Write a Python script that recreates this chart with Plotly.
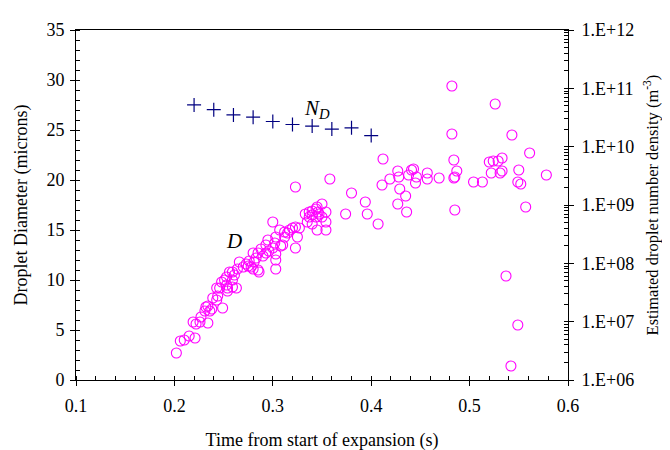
import plotly.graph_objects as go

# Droplet diameter D (microns) vs time (s)
t_D = [0.202, 0.206, 0.210, 0.215, 0.221,
       0.219, 0.222, 0.226, 0.227, 0.234,
       0.232, 0.234, 0.238, 0.236, 0.231, 0.249,
       0.239, 0.243, 0.244,
       0.246, 0.243, 0.253, 0.254, 0.259, 0.254, 0.263,
       0.248, 0.251, 0.253, 0.259, 0.256, 0.259, 0.261, 0.264, 0.266, 0.270,
       0.273, 0.276, 0.278, 0.275, 0.280, 0.285, 0.286, 0.281, 0.283, 0.280,
       0.285, 0.288, 0.290, 0.293, 0.296, 0.293, 0.295, 0.300, 0.302, 0.303,
       0.303, 0.303, 0.308, 0.303, 0.312, 0.307, 0.315, 0.320, 0.323, 0.327,
       0.325, 0.317, 0.312, 0.300, 0.323, 0.310,
       0.323, 0.333, 0.337, 0.340, 0.344, 0.346, 0.350, 0.345, 0.354, 0.347,
       0.340, 0.337, 0.344, 0.350, 0.335, 0.340, 0.354, 0.345, 0.354, 0.358,
       0.374, 0.380, 0.394, 0.396, 0.407, 0.412, 0.411, 0.419, 0.427, 0.428,
       0.429, 0.435, 0.427, 0.436, 0.438, 0.441, 0.443, 0.446, 0.445, 0.457,
       0.457, 0.469, 0.482, 0.482, 0.484, 0.487, 0.484, 0.485, 0.485, 0.504,
       0.513, 0.520, 0.524, 0.529, 0.533, 0.522, 0.531, 0.533, 0.526, 0.543,
       0.561, 0.550, 0.549, 0.552, 0.578, 0.557, 0.537, 0.549, 0.542]
D_vals = [2.7, 3.9, 4.0, 4.4, 4.2,
          5.8, 5.6, 5.8, 6.3, 5.7,
          7.3, 7.4, 7.1, 6.9, 6.9, 7.2,
          8.2, 8.0, 8.4,
          9.2, 9.2, 9.5, 8.9, 9.3, 9.2, 9.2,
          9.8, 10.0, 10.3, 10.0, 10.8, 10.8, 10.5, 11.1, 11.8, 11.3,
          11.6, 11.9, 11.3, 11.4, 11.1, 11.0, 10.8, 11.8, 12.2, 12.7,
          12.7, 13.1, 12.4, 12.7, 12.9, 13.5, 14.0, 13.2, 13.7, 12.6,
          12.0, 11.1, 13.4, 14.3, 14.3, 15.0, 14.7, 15.2, 15.3, 15.2,
          14.3, 15.0, 14.8, 15.8, 13.2, 13.5,
          19.3, 16.6, 16.8, 16.9, 17.1, 16.8, 17.6, 17.3, 16.8, 16.6,
          16.5, 16.3, 16.3, 16.3, 15.8, 15.6, 15.8, 15.0, 15.0, 20.1,
          16.6, 18.7, 17.8, 16.6, 15.6, 22.1, 19.5, 20.1, 20.9, 20.3,
          19.1, 18.4, 17.6, 16.8, 20.5, 21.0, 21.1, 20.3, 19.7, 20.7,
          20.1, 20.2, 29.4, 24.6, 22.0, 20.9, 20.2, 20.3, 17.0, 19.8,
          19.8, 21.8, 21.9, 21.9, 22.2, 20.7, 20.7, 20.9, 27.6, 24.5,
          22.7, 21.0, 19.8, 19.6, 20.5, 17.3, 10.4, 5.5, 1.4]

# Estimated droplet number density N_D (m^-3)
t_N = [0.22, 0.24, 0.26, 0.28, 0.30, 0.32, 0.34, 0.36, 0.38, 0.40]
N_vals = [5.2e10, 4.3e10, 3.5e10, 3.2e10, 2.7e10, 2.4e10, 2.25e10, 2.0e10, 2.1e10, 1.55e10]

right_tickvals = [1e6, 1e7, 1e8, 1e9, 1e10, 1e11, 1e12]
right_ticktext = ["1.E+06", "1.E+07", "1.E+08", "1.E+09", "1.E+10", "1.E+11", "1.E+12"]

FONT = "Liberation Serif, Times New Roman, serif"

fig = go.Figure()
fig.add_trace(go.Scatter(
    x=t_D, y=D_vals, mode="markers", yaxis="y",
    marker=dict(symbol="circle-open", size=10, color="#FF00FF", line=dict(width=1.1, color="#FF00FF")),
    showlegend=False))
fig.add_trace(go.Scatter(
    x=t_N, y=N_vals, mode="markers", yaxis="y2",
    marker=dict(symbol="cross-thin", size=10, color="#000080", line=dict(width=1.2, color="#000080")),
    showlegend=False))

axis_common = dict(showgrid=False, zeroline=False, showline=True, linecolor="black", linewidth=1,
                   ticks="outside", ticklen=5, tickcolor="black",
                   tickfont=dict(family=FONT, size=18, color="black"))

fig.update_layout(
    width=670, height=450,
    margin=dict(l=64, r=110, t=14, b=75),
    paper_bgcolor="white", plot_bgcolor="white",
    font=dict(family=FONT, color="black", size=18),
    xaxis=dict(range=[0.1, 0.6], dtick=0.1, tick0=0.1, mirror=True,
               tickformat=".1f", ticklabelstandoff=4,
               minor=dict(dtick=0.02, ticks="inside", ticklen=4, tickcolor="black"),
               title=dict(text="Time from start of expansion (s)", font=dict(family=FONT, size=18), standoff=18),
               **axis_common),
    yaxis=dict(range=[0, 35], dtick=5, ticklabelstandoff=2,
               minor=dict(dtick=1, ticks="inside", ticklen=4, tickcolor="black"),
               title=dict(text="Droplet Diameter (microns)", font=dict(family=FONT, size=18), standoff=14),
               **axis_common),
    yaxis2=dict(type="log", range=[6, 12], overlaying="y", side="right",
                tickmode="array", tickvals=right_tickvals, ticktext=right_ticktext,
                ticklabelstandoff=4,
                minor=dict(dtick="D1", ticks="inside", ticklen=4, tickcolor="black"),
                title=dict(text="Estimated droplet number density (m<sup>-3</sup>)",
                           font=dict(family=FONT, size=16.5), standoff=13),
                **axis_common),
    annotations=[
        dict(x=0.345, y=27.1, xref="x", yref="y", showarrow=False,
             text="<i>N</i><sub><i>D</i></sub>", font=dict(family=FONT, size=21, color="black")),
        dict(x=0.261, y=13.9, xref="x", yref="y", showarrow=False,
             text="<i>D</i>", font=dict(family=FONT, size=21, color="black")),
    ],
)

fig.write_html("out.html")
